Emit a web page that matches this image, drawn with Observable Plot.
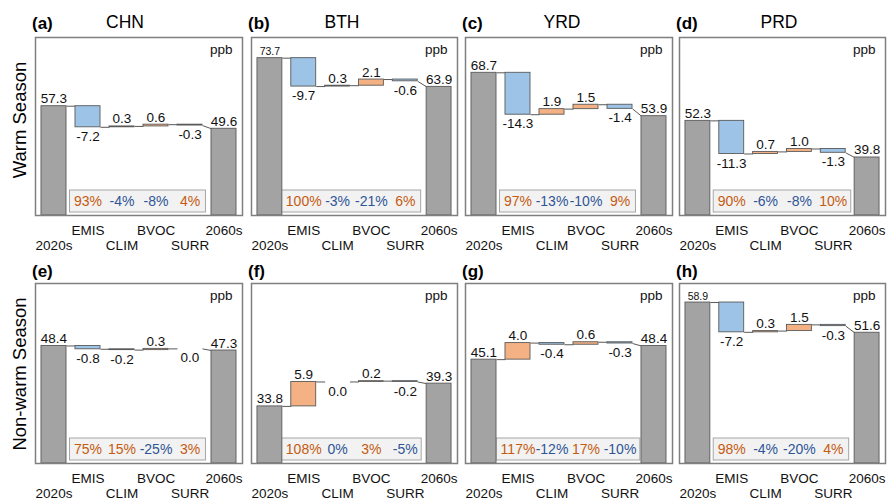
<!DOCTYPE html>
<html><head><meta charset="utf-8">
<script src="https://cdn.jsdelivr.net/npm/d3@7"></script>
<script src="https://cdn.jsdelivr.net/npm/@observablehq/plot@0.6"></script>
<style>
body{margin:0;background:#fff;}
#chart{position:relative;width:887px;height:500px;font-family:"Liberation Sans",Arial,sans-serif;overflow:hidden;background:#fff;}
.abs{position:absolute;white-space:nowrap;color:#000;line-height:20px;}
</style></head><body><div id="chart"></div>
<script>
// ---- data ----
const categories = ["2020s", "EMIS", "CLIM", "BVOC", "SURR", "2060s"];
const regions = ["CHN", "BTH", "YRD", "PRD"];
const seasons = ["Warm Season", "Non-warm Season"];
const panelLetters = ["(a)", "(b)", "(c)", "(d)", "(e)", "(f)", "(g)", "(h)"];
const unitLabel = "ppb";
// panels a-d warm season, e-h non-warm season
const start2020 = [57.3, 73.7, 68.7, 52.3, 48.4, 33.8, 45.1, 58.9];
const emis = [-7.2, -9.7, -14.3, -11.3, -0.8, 5.9, 4.0, -7.2];
const clim = [0.3, 0.3, 1.9, 0.7, -0.2, 0.0, -0.4, 0.3];
const bvoc = [0.6, 2.1, 1.5, 1.0, 0.3, 0.2, 0.6, 1.5];
const surr = [-0.3, -0.6, -1.4, -1.3, 0.0, -0.2, -0.3, -0.3];
const end2060 = [49.6, 63.9, 53.9, 39.8, 47.3, 39.3, 48.4, 51.6];
const pctEmis = [93, 100, 97, 90, 75, 108, 117, 98];
const pctClim = [-4, -3, -13, -6, 15, 0, -12, -4];
const pctBvoc = [-8, -21, -10, -8, -25, 3, 17, -20];
const pctSurr = [4, 6, 9, 10, 3, -5, -10, 4];

// ---- layout ----
const colLeft = [35, 251, 465, 679];
const colWidth = [207, 206, 207, 206];
const rowTop = [37, 283];
const rowHeight = [178, 180];
const rowYDomain = [[20, 80.75], [20, 63.5]];
const titleCenter = [125, 342, 562, 779];
const letterTop = [14, 262];
const regionTop = [12];
const rowLabelCenter = [119.5, 374];

const GRAY = "#a3a3a3", BLUE = "#9dc3e6", ORANGE = "#f4b183";
const PCT_ORANGE = "#c55a11", PCT_BLUE = "#2f5597";
const FONT = "'Liberation Sans', Arial, sans-serif";
const PCT_SIZE = 14;

const chart = document.getElementById("chart");
const hw = 0.368;
const pad = 2, mb = 44;
const xDomain = [-0.544, 5.544];
const ctx = document.createElement("canvas").getContext("2d");
ctx.font = `${PCT_SIZE}px ${FONT}`;

for (let p = 0; p < 8; p++) {
  const row = Math.floor(p / 4), col = p % 4;
  const fw = colWidth[col], fh = rowHeight[row];
  const [ymin, ymax] = rowYDomain[row];
  const pxPerUnit = fh / (ymax - ymin);
  const pxPerStep = fw / (xDomain[1] - xDomain[0]);
  const changes = [emis[p], clim[p], bvoc[p], surr[p]];
  const pcts = [pctEmis[p], pctClim[p], pctBvoc[p], pctSurr[p]];
  const cum = [start2020[p]];
  changes.forEach(v => cum.push(Math.round((cum[cum.length - 1] + v) * 100) / 100));

  const bars = [{i: 0, lo: ymin, hi: start2020[p], fill: GRAY}];
  changes.forEach((v, j) => {
    if (v !== 0) bars.push({i: j + 1, lo: Math.min(cum[j], cum[j + 1]), hi: Math.max(cum[j], cum[j + 1]), fill: v > 0 ? ORANGE : BLUE});
  });
  bars.push({i: 5, lo: ymin, hi: end2060[p], fill: GRAY});

  const sizeFor = v => (ymax - v) * pxPerUnit < 22 ? 10.5 : 13.5;
  const labelsAbove = [
    {i: 0, y: start2020[p], t: start2020[p].toFixed(1), s: sizeFor(start2020[p])},
    {i: 5, y: end2060[p], t: end2060[p].toFixed(1), s: sizeFor(end2060[p])}
  ];
  const labelsBelow = [];
  changes.forEach((v, j) => {
    const d = {i: j + 1, y: cum[j + 1], t: v.toFixed(1), s: 13.5};
    (v > 0 ? labelsAbove : labelsBelow).push(d);
  });

  const links = [];
  for (let j = 0; j < 4; j++) links.push({x1: j + hw, x2: j + 1 - hw, y1: cum[j], y2: cum[j]});
  links.push({x1: 4 + hw, x2: 5 - hw, y1: cum[4], y2: end2060[p]});

  const pctData = pcts.map((v, j) => ({i: j + 1, v, t: v + "%"}));
  const catData = categories.map((c, i) => ({i, c}));
  // box extends to cover the first and last percentage texts
  const leftExt = Math.max(0.47, (ctx.measureText(pctData[0].t).width / 2 + 4) / pxPerStep);
  const rightExt = Math.max(0.47, (ctx.measureText(pctData[3].t).width / 2 + 4) / pxPerStep);

  const svg = Plot.plot({
    width: fw + 2 * pad,
    height: fh + pad + mb,
    marginLeft: pad, marginRight: pad, marginTop: pad, marginBottom: mb,
    style: {fontFamily: FONT, fontSize: "13px", background: "transparent", color: "#000"},
    x: {type: "linear", domain: xDomain, axis: null},
    y: {domain: [ymin, ymax], axis: null},
    color: {type: "identity"},
    marks: [
      Plot.rect([0], {x1: 1 - leftExt, x2: 4 + rightExt, fill: "#f2f2f2", stroke: "#a6a6a6", strokeWidth: 1, insetTop: fh - 25, insetBottom: 3}),
      Plot.link(links, {x1: "x1", x2: "x2", y1: "y1", y2: "y2", stroke: "#595959", strokeWidth: 1}),
      Plot.rect(bars, {x1: d => d.i - hw, x2: d => d.i + hw, y1: "lo", y2: "hi", fill: "fill", stroke: "#5a5a5a", strokeWidth: 0.9}),
      Plot.text(labelsAbove, {x: "i", y: "y", text: "t", fontSize: "s", lineAnchor: "bottom", dy: -3, fill: "#111"}),
      Plot.text(labelsBelow, {x: "i", y: "y", text: "t", fontSize: "s", lineAnchor: "top", dy: 4, fill: "#111"}),
      Plot.text(pctData, {x: "i", text: "t", frameAnchor: "bottom", lineAnchor: "middle", dy: -14, fontSize: PCT_SIZE, fill: d => d.v > 0 ? PCT_ORANGE : PCT_BLUE}),
      Plot.frame({stroke: "#7f7f7f", strokeWidth: 1.5}),
      // staggered category labels: odd indices on the upper line, even on the lower line
      Plot.text(catData.filter(d => d.i % 2 === 1), {x: "i", text: "c", frameAnchor: "bottom", lineAnchor: "top", dy: 10, fontSize: 13.5, fill: "#111"}),
      Plot.text(catData.filter(d => d.i % 2 === 0), {x: "i", text: "c", frameAnchor: "bottom", lineAnchor: "top", dy: 24.5, fontSize: 13.5, fill: "#111"}),
      Plot.text([unitLabel], {frameAnchor: "top-right", textAnchor: "end", lineAnchor: "top", dx: -10, dy: 7, fontSize: 13.5, fill: "#111"})
    ]
  });
  svg.style.position = "absolute";
  svg.style.left = (colLeft[col] - pad) + "px";
  svg.style.top = (rowTop[row] - pad) + "px";
  svg.style.maxWidth = "none";
  svg.style.overflow = "visible";
  chart.appendChild(svg);

  const letter = document.createElement("div");
  letter.className = "abs";
  letter.textContent = panelLetters[p];
  Object.assign(letter.style, {left: (colLeft[col] - 3) + "px", top: letterTop[row] + "px", fontWeight: "bold", fontSize: "17px"});
  chart.appendChild(letter);

  if (row === 0) {
    const title = document.createElement("div");
    title.className = "abs";
    title.textContent = regions[col];
    Object.assign(title.style, {left: titleCenter[col] + "px", top: regionTop[0] + "px", fontSize: "17.5px", transform: "translateX(-50%)"});
    chart.appendChild(title);
  }
}

seasons.forEach((s, r) => {
  const el = document.createElement("div");
  el.className = "abs";
  el.textContent = s;
  Object.assign(el.style, {left: "20px", top: rowLabelCenter[r] + "px", fontSize: "18.5px", transform: "translate(-50%,-50%) rotate(-90deg)"});
  chart.appendChild(el);
});
</script></body></html>
